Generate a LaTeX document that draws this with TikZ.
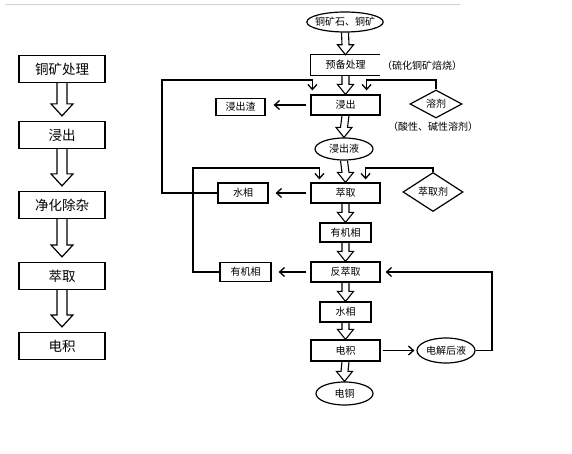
\documentclass[tikz,border=0pt]{standalone}
\usepackage{fontspec}
\setmainfont{Noto Sans CJK SC}
\usetikzlibrary{calc}
\usetikzlibrary{shapes.geometric}
\usetikzlibrary{arrows.meta}
\tikzset{>={Straight Barb[length=5pt,width=9pt,line width=1.3pt]}}
\tikzset{
  box/.style={draw, line width=1.2pt, inner sep=0pt, font=\fontsize{10}{12}\selectfont},
  bigbox/.style={draw, line width=1.2pt, inner sep=0pt, minimum width=86pt, minimum height=27pt, font=\fontsize{13.5}{15}\selectfont},
  oval/.style={ellipse, draw, line width=1.2pt, inner sep=0pt, font=\fontsize{10}{12}\selectfont},
  dia/.style={diamond, draw, line width=1.2pt, inner sep=0pt, aspect=1.5, font=\fontsize{10}{12}\selectfont},
  note/.style={font=\fontsize{10}{12}\selectfont},
  fb/.style={line width=1.3pt},
}
% 空心箭头（左侧，大）
\newcommand{\hollowarrow}[2]{%
  \draw[line width=1.2pt] ($(#1.south)+(-5,0)$) -- ($(#2.north)+(-5,-17)$) -- ($(#2.north)+(-11,-17)$)
    -- ($(#2.north)+(0,-5)$) -- ($(#2.north)+(11,-17)$) -- ($(#2.north)+(5,-17)$) -- ($(#1.south)+(5,0)$);}
% 空心箭头（右侧，小）
\newcommand{\thinarrow}[2]{%
  \draw[line width=1.1pt] ($(#1.south)+(-3.5,0)$) -- ($(#2.north)+(-3.5,-10)$) -- ($(#2.north)+(-8,-10)$)
    -- (#2.north) -- ($(#2.north)+(8,-10)$) -- ($(#2.north)+(3.5,-10)$) -- ($(#1.south)+(3.5,0)$);}

\begin{document}
\begin{tikzpicture}[x=1pt,y=-1pt]
  \useasboundingbox (0,0) rectangle (572,454);
  \draw[gray!35] (5,4) -- (460,4);

  % 左侧流程
  \node[bigbox] (L1) at (62,69) {铜矿处理};
  \node[bigbox] (L2) at (62,135) {浸出};
  \node[bigbox] (L3) at (62,205) {净化除杂};
  \node[bigbox] (L4) at (62,276) {萃取};
  \node[bigbox] (L5) at (62,346) {电积};

  \hollowarrow{L1}{L2}
  \hollowarrow{L2}{L3}
  \hollowarrow{L3}{L4}
  \hollowarrow{L4}{L5}

  % 右侧流程
  \node[oval, inner xsep=-3pt, minimum width=76pt, minimum height=20pt] (ore) at (345,22) {铜矿石、铜矿};
  \node[inner sep=0pt, minimum width=69pt, minimum height=20pt, font=\fontsize{10}{12}\selectfont] (prep) at (345.5,65) {预备处理};
  \node[box, minimum width=69pt, minimum height=20pt] (leach) at (345.5,105) {浸出};
  \node[box, minimum width=49pt, minimum height=17pt] (residue) at (240.5,107) {浸出渣};
  \node[dia, minimum width=52pt, minimum height=28pt] (solvent) at (436,104) {溶剂};
  \node[oval, minimum width=58pt, minimum height=22pt] (liquor) at (344,149) {浸出液};
  \node[box, minimum width=69pt, minimum height=20pt] (extract) at (345.5,193) {萃取};
  \node[box, minimum width=50pt, minimum height=20pt] (aqueous) at (243,193) {水相};
  \node[dia, minimum width=60pt, minimum height=39pt] (extractant) at (433,192) {萃取剂};
  \node[box, minimum width=51pt, minimum height=19pt] (organic) at (345.5,232.5) {有机相};
  \node[box, minimum width=69pt, minimum height=20pt] (strip) at (345.5,272) {反萃取};
  \node[box, minimum width=51pt, minimum height=19pt] (organicb) at (245.5,272) {有机相};
  \node[box, minimum width=51pt, minimum height=20pt] (aqueousb) at (345.5,312) {水相};
  \node[box, minimum width=69pt, minimum height=21pt] (ew) at (345.5,350.5) {电积};
  \node[oval, minimum width=58pt, minimum height=25pt] (spent) at (446,350.5) {电解后液};
  \node[oval, minimum width=57pt, minimum height=23pt] (cathode) at (344.5,393.5) {电铜};

  % 说明文字
  \node[note] (prepnote) at (422,66) {（硫化铜矿焙烧）};
  \node[note] (solventnote) at (433,127) {（酸性、碱性溶剂）};

  % 预备处理框（右侧开口）
  \draw[line width=1.2pt] (prep.north east) -- (prep.north west) -- (prep.south west) -- (prep.south east);

  % 主流程箭头
  \thinarrow{ore}{prep}
  \thinarrow{prep}{leach}
  \thinarrow{leach}{liquor}
  \thinarrow{liquor}{extract}
  \thinarrow{extract}{organic}
  \thinarrow{organic}{strip}
  \thinarrow{strip}{aqueousb}
  \thinarrow{aqueousb}{ew}
  \thinarrow{ew}{cathode}

  % 侧向箭头
  \draw[fb,->,shorten <=4pt,shorten >=8pt] (leach.west) -- (leach.west -| residue.east);
  \draw[fb,->,shorten <=4pt,shorten >=7pt] (extract.west) -- (aqueous.east);
  \draw[fb,->,shorten <=4pt,shorten >=7pt] (strip.west) -- (organicb.east);
  \draw[fb,->,shorten <=2pt,shorten >=2pt] (ew.east) -- (spent.west);

  % 回流线
  \coordinate (A1) at (162,80);
  \coordinate (A2) at ($(leach.north east)+(-14,0)$);
  \draw[fb,->,shorten >=4pt] (aqueous.west) -| (A1) -| ($(leach.north west)+(2,0)$);
  \draw[fb,->,shorten >=4pt] (solvent.north) |- (A2 |- A1) -- (A2);

  \coordinate (B1) at (193,168);
  \coordinate (B2) at ($(extract.north east)+(-15,0)$);
  \draw[fb,->,shorten >=3pt] (organicb.west) -| (B1) -| ($(extract.north west)+(9,0)$);
  \draw[fb,->,shorten >=3pt] (extractant.north) |- (B2 |- B1) -- (B2);

  \coordinate (C1) at (492,272);
  \draw[fb,->,shorten >=5pt] (spent.east) -| (C1) -- (strip.east);
\end{tikzpicture}
\end{document}
